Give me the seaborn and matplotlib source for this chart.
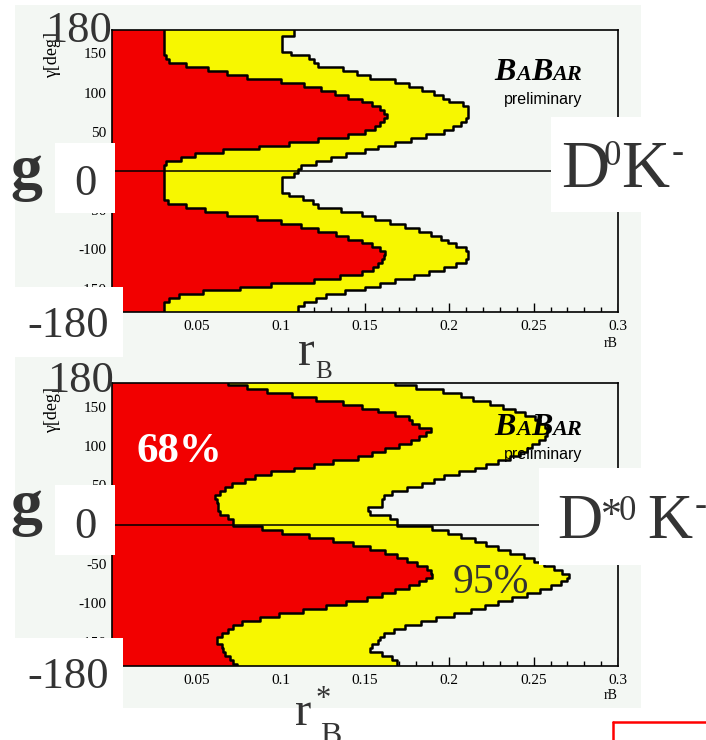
import numpy as np
import pandas as pd
import seaborn as sns
import matplotlib.pyplot as plt
from matplotlib.lines import Line2D
from matplotlib.patches import Rectangle
from matplotlib.ticker import MultipleLocator, FormatStrFormatter
from matplotlib.offsetbox import TextArea, HPacker, AnnotationBbox

sns.set_style("white")
plt.rcParams["font.family"] = ["Liberation Serif", "DejaVu Serif"]

# gamma bin centres (deg), from +180 down to -180
gamma = np.arange(180, -181, -5)

# B- -> D0 K- : r_B boundary of the 68% and 95% regions per gamma bin
d0k_r68 = [0.031, 0.031, 0.031, 0.031, 0.031, 0.031, 0.031, 0.032, 0.034, 0.044,   # 180..135
           0.057, 0.068, 0.080, 0.100, 0.114, 0.124, 0.132, 0.140, 0.148, 0.154,   # 130..85
           0.159, 0.161, 0.163, 0.161, 0.159, 0.156, 0.150, 0.140, 0.122, 0.105,   # 80..35
           0.087, 0.066, 0.049, 0.041, 0.032, 0.031, 0.031,                       # 30..0
           0.031, 0.031, 0.031, 0.031, 0.031, 0.031, 0.031, 0.033, 0.044, 0.055,   # -5..-50
           0.068, 0.086, 0.100, 0.112, 0.122, 0.133, 0.140, 0.148, 0.154, 0.159,   # -55..-100
           0.162, 0.161, 0.160, 0.158, 0.155, 0.148, 0.135, 0.120, 0.094, 0.076,   # -105..-150
           0.054, 0.040, 0.034, 0.031, 0.031, 0.031]                              # -155..-180
d0k_r95 = [0.108, 0.108, 0.101, 0.101, 0.101, 0.101, 0.106, 0.117, 0.120, 0.122,
           0.137, 0.145, 0.153, 0.168, 0.176, 0.184, 0.191, 0.196, 0.200, 0.208,
           0.211, 0.211, 0.211, 0.210, 0.207, 0.202, 0.197, 0.186, 0.177, 0.168,
           0.158, 0.150, 0.139, 0.130, 0.121, 0.112, 0.110,
           0.108, 0.101, 0.101, 0.101, 0.101, 0.105, 0.113, 0.119, 0.122, 0.136,
           0.148, 0.156, 0.165, 0.174, 0.182, 0.189, 0.195, 0.199, 0.204, 0.210,
           0.211, 0.211, 0.210, 0.204, 0.197, 0.188, 0.179, 0.168, 0.159, 0.150,
           0.138, 0.127, 0.121, 0.114, 0.110, 0.110]

# B- -> D*0 K- : r*_B boundary of the 68% and 95% regions per gamma bin
dsk_r68 = [0.069, 0.080, 0.092, 0.107, 0.121, 0.137, 0.148, 0.158, 0.168, 0.176,
           0.178, 0.182, 0.189, 0.186, 0.182, 0.177, 0.170, 0.162, 0.154, 0.146,
           0.131, 0.120, 0.108, 0.094, 0.085, 0.079, 0.071, 0.067, 0.064, 0.061,
           0.062, 0.063, 0.063, 0.064, 0.069, 0.072, 0.072,
           0.089, 0.101, 0.117, 0.131, 0.143, 0.153, 0.162, 0.169, 0.175, 0.181,
           0.187, 0.189, 0.190, 0.186, 0.182, 0.176, 0.168, 0.160, 0.151, 0.139,
           0.127, 0.113, 0.099, 0.088, 0.077, 0.072, 0.069, 0.065, 0.062, 0.062,
           0.065, 0.066, 0.067, 0.070, 0.072, 0.074]
dsk_r95 = [0.168, 0.180, 0.196, 0.207, 0.214, 0.224, 0.232, 0.239, 0.245, 0.251,
           0.254, 0.257, 0.258, 0.258, 0.257, 0.253, 0.249, 0.246, 0.242, 0.236,
           0.229, 0.222, 0.215, 0.206, 0.197, 0.191, 0.184, 0.175, 0.166, 0.161,
           0.160, 0.160, 0.152, 0.153, 0.165, 0.169, 0.169,
           0.190, 0.199, 0.207, 0.215, 0.222, 0.229, 0.236, 0.244, 0.250, 0.256,
           0.262, 0.267, 0.271, 0.270, 0.266, 0.260, 0.254, 0.246, 0.237, 0.229,
           0.221, 0.213, 0.203, 0.192, 0.183, 0.174, 0.167, 0.161, 0.159, 0.158,
           0.154, 0.153, 0.160, 0.166, 0.169, 0.169]

x_major = [0.0, 0.05, 0.10, 0.15, 0.20, 0.25, 0.30]
y_major = [-150, -100, -50, 0, 50, 100, 150]

RED = "#f20000"
YELLOW = "#f7f700"
BG = "#f3f7f3"
INK = "#333333"

W, H = 706, 740


def fx(x):
    return x / W


def fy(y):
    return 1 - y / H


def step_outline(g, r):
    """Staircase path of a binned boundary r(gamma), bins centred on g."""
    g = np.asarray(g, float)
    r = np.asarray(r, float)
    mids = (g[:-1] + g[1:]) / 2
    edges = np.concatenate([[g[0]], mids, [g[-1]]])
    ys = np.column_stack([edges[:-1], edges[1:]]).ravel()
    xs = np.repeat(r, 2)
    return pd.DataFrame({"r": xs, "gamma": ys})


def draw_panel(ax, r68, r95):
    ax.set_facecolor(BG)
    ax.fill_betweenx(gamma, 0, r68, step="mid", color=RED, lw=0, zorder=1)
    ax.fill_betweenx(gamma, r68, r95, step="mid", color=YELLOW, lw=0, zorder=1)
    for r in (r68, r95):
        sns.lineplot(data=step_outline(gamma, r), x="r", y="gamma", sort=False,
                     estimator=None, color="black", lw=1.8, ax=ax, zorder=3)
    ax.axhline(0, color="black", lw=1.1, zorder=3.5)
    ax.set_xlim(0, 0.3)
    ax.set_ylim(-180, 180)
    ax.set_xlabel("")
    ax.set_ylabel("")
    ax.set_xticks(x_major)
    ax.set_yticks(y_major)
    ax.xaxis.set_minor_locator(MultipleLocator(0.01))
    ax.xaxis.set_major_formatter(FormatStrFormatter("%g"))
    ax.yaxis.set_major_formatter(FormatStrFormatter("%g"))
    ax.tick_params(axis="both", which="both", length=0, labelsize=11,
                   labelcolor="black")
    ax.tick_params(axis="x", pad=6)
    ax.tick_params(axis="y", pad=4)
    # ROOT-style inward ticks along r, lying underneath the filled regions
    xt = ax.get_xaxis_transform()
    ax.vlines(ax.xaxis.get_majorticklocs(), 0, 0.032, transform=xt,
              color="black", lw=1.0, zorder=0.9)
    ax.vlines(ax.xaxis.get_minorticklocs(), 0, 0.016, transform=xt,
              color="black", lw=1.0, zorder=0.9)
    for sp in ax.spines.values():
        sp.set_color("black")
        sp.set_linewidth(1.2)
        sp.set_visible(True)
        sp.set_zorder(4)


def babar_logo(ax, x_right, y_base):
    parts = [("B", 23), ("A", 16), ("B", 23), ("AR", 16)]
    kids = [TextArea(t, textprops=dict(fontsize=s, fontweight="bold",
                                       fontstyle="italic", color="black",
                                       family="Liberation Serif"))
            for t, s in parts]
    box = HPacker(children=kids, align="baseline", pad=0, sep=0)
    ab = AnnotationBbox(box, (fx(x_right), fy(y_base)), xycoords="figure fraction",
                        box_alignment=(1, 0), frameon=False, pad=0)
    ab.set_zorder(2)
    ax.add_artist(ab)
    ax.text(fx(x_right), fy(y_base + 17), "preliminary", transform=ax.figure.transFigure,
            ha="right", va="baseline", fontsize=11.5, family="Liberation Sans",
            color="black", zorder=2)


fig = plt.figure(figsize=(W / 100, H / 100), dpi=100)
fig.patch.set_facecolor("white")
fig.patches.append(Rectangle((fx(15), fy(708)), fx(641) - fx(15), fy(5) - fy(708),
                             transform=fig.transFigure, facecolor=BG,
                             edgecolor="none", zorder=-5))

ax_top = fig.add_axes([fx(112), fy(312), 506 / W, 282 / H])
ax_bot = fig.add_axes([fx(112), fy(666), 506 / W, 283 / H])
draw_panel(ax_top, d0k_r68, d0k_r95)
draw_panel(ax_bot, dsk_r68, dsk_r95)
babar_logo(ax_top, 582, 87)
babar_logo(ax_bot, 582, 442)

# white cover boxes for the big angle labels and channel names
for (x0, y0, x1, y1) in [(55, 143, 115, 213), (15, 287, 123, 357),
                         (55, 485, 115, 555), (15, 638, 123, 708),
                         (551, 117, 706, 212), (539, 468, 706, 565)]:
    fig.patches.append(Rectangle((fx(x0), fy(y1)), fx(x1) - fx(x0), fy(y0) - fy(y1),
                                 transform=fig.transFigure, facecolor="white",
                                 edgecolor="none", zorder=5))


def ftext(x, y, s, **kw):
    kw.setdefault("va", "baseline")
    kw.setdefault("color", INK)
    kw.setdefault("zorder", 6)
    fig.text(fx(x), fy(y), s, **kw)


# axis titles in ROOT style
for yc in (55, 410):
    ftext(53, yc, "γ[deg]", fontsize=13, rotation=90, ha="center", va="center",
          color="black")
for yb in (347, 699):
    ftext(618, yb, "rB", fontsize=10, ha="right", color="black")

# big annotations
ftext(45, 42, "180", fontsize=32)
ftext(47, 392, "180", fontsize=32)
ftext(27, 337, "-180", fontsize=32)
ftext(27, 688, "-180", fontsize=32)
ftext(85, 195, "0", fontsize=32, ha="center")
ftext(85, 538, "0", fontsize=32, ha="center")
ftext(10, 188, "g", fontsize=46, fontweight="bold")
ftext(10, 523, "g", fontsize=46, fontweight="bold")

# channel names: D0K- and D*0K-
ftext(561, 187, "D", fontsize=48)
ftext(604, 165, "0", fontsize=25)
ftext(621, 187, "K", fontsize=48)
ftext(672, 162, "-", fontsize=26)
ftext(557, 538, "D", fontsize=45)
ftext(601, 527, "*", fontsize=30)
ftext(619, 520, "0", fontsize=25)
ftext(647, 538, "K", fontsize=45)
ftext(695, 515, "-", fontsize=26)

# x titles r_B and r*_B
ftext(298, 365, "r", fontsize=36)
ftext(315, 378, "B", fontsize=18)
ftext(295, 725, "r", fontsize=35)
ftext(316, 707, "*", fontsize=22)
ftext(320, 744, "B", fontsize=23)

ftext(137, 462, "68%", fontsize=31, fontweight="bold", color="white")
ftext(453, 593, "95%", fontsize=30)

fig.add_artist(Line2D([fx(613), fx(706)], [fy(722), fy(722)], color="red", lw=1.8,
                      transform=fig.transFigure, zorder=6))
fig.add_artist(Line2D([fx(613), fx(613)], [fy(722), fy(740)], color="red", lw=1.8,
                      transform=fig.transFigure, zorder=6))

fig.savefig("out.png", dpi=100)
